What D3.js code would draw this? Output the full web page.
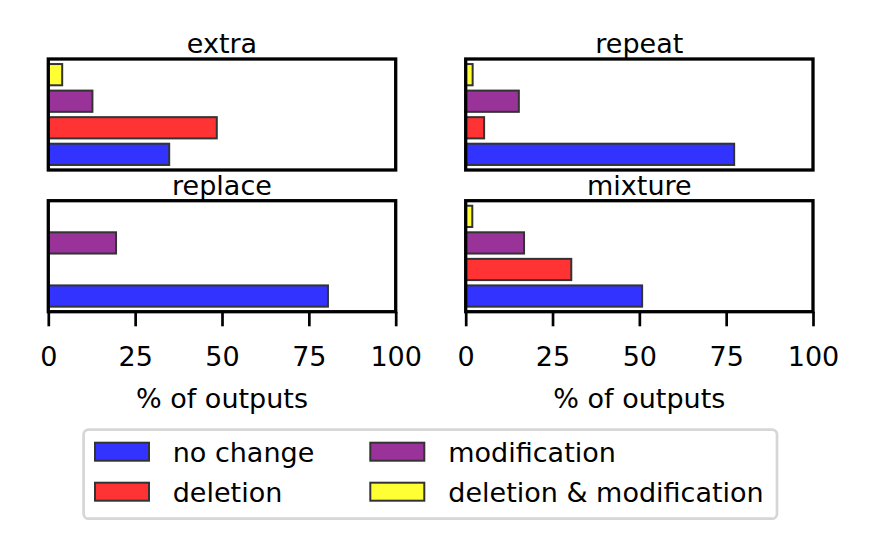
<!DOCTYPE html>
<html>
<head>
<meta charset="utf-8">
<script src="https://cdn.jsdelivr.net/npm/d3@7"></script>
<style>
  body { margin: 0; background: #fff; }
  svg { display: block; }
  text { font-family: "DejaVu Sans", sans-serif; fill: #000; }
</style>
</head>
<body>
<svg id="chart" width="872" height="551"></svg>
<script>
// ---- data ----
const panels = ["extra", "repeat", "replace", "mixture"];
const seriesNames = ["no change", "deletion", "modification", "deletion & modification"];
const noChange = [34.8, 77.3, 80.5, 50.8];
const deletion = [48.5, 5.3, 0, 30.4];
const modification = [12.7, 15.3, 19.5, 16.8];
const delMod = [4.0, 2.0, 0, 1.9];
const xTicks = [0, 25, 50, 75, 100];
const xLabel = "% of outputs";

const seriesValues = [noChange, deletion, modification, delMod];
const colors = ["#3333ff", "#ff3333", "#993399", "#ffff33"];
const edge = "#333333";
const FS = 27;

const svg = d3.select("#chart");

// panel layout
const cols = [{ x0: 48.3, x1: 395.7 }, { x0: 465.7, x1: 813 }];
const rows = [{ y0: 59, y1: 170 }, { y0: 200.7, y1: 311.7 }];

panels.forEach((name, i) => {
  const c = cols[i % 2], r = rows[Math.floor(i / 2)];
  const isBottom = Math.floor(i / 2) === 1;
  const x = d3.scaleLinear().domain([0, 100]).range([c.x0, c.x1]);
  const y = d3.scaleLinear().domain([-0.59, 3.59]).range([r.y1, r.y0]);
  const barH = Math.abs(y(0.4) - y(-0.4));

  const g = svg.append("g");
  const data = seriesValues.map((vals, k) => ({ k, v: vals[i] })).filter(d => d.v > 0);

  g.selectAll("rect.bar").data(data).join("rect")
    .attr("class", "bar")
    .attr("x", x(0))
    .attr("y", d => y(d.k + 0.4))
    .attr("width", d => x(d.v) - x(0))
    .attr("height", barH)
    .attr("fill", d => colors[d.k])
    .attr("stroke", edge)
    .attr("stroke-width", 2);

  // spines
  g.append("rect")
    .attr("x", c.x0).attr("y", r.y0)
    .attr("width", c.x1 - c.x0).attr("height", r.y1 - r.y0)
    .attr("fill", "none").attr("stroke", "#000").attr("stroke-width", 3.3);

  // title
  g.append("text")
    .attr("x", (c.x0 + c.x1) / 2).attr("y", r.y0 - 5.7)
    .attr("text-anchor", "middle").attr("font-size", FS)
    .text(name);

  if (isBottom) {
    const axis = d3.axisBottom(x).tickValues(xTicks).tickSize(14.6).tickPadding(0).tickFormat(d3.format("d"));
    const ag = g.append("g").attr("transform", `translate(0,${r.y1})`).call(axis);
    ag.select(".domain").remove();
    ag.selectAll(".tick line").attr("stroke", "#000").attr("stroke-width", 2.7);
    ag.selectAll(".tick text")
      .attr("y", 366 - r.y1).attr("dy", null)
      .attr("font-size", FS)
      .attr("font-family", "DejaVu Sans, sans-serif")
      .attr("fill", "#000");
    g.append("text")
      .attr("x", (c.x0 + c.x1) / 2).attr("y", 408)
      .attr("text-anchor", "middle").attr("font-size", FS)
      .text(xLabel);
  }
});

// legend
const lg = svg.append("g");
lg.append("rect")
  .attr("x", 83.6).attr("y", 429.6)
  .attr("width", 693.4).attr("height", 89.1)
  .attr("rx", 5).attr("ry", 5)
  .attr("fill", "#fff").attr("stroke", "#d6d6d6").attr("stroke-width", 2.7);

const legPos = [
  { px: 94, tx: 172.7, y: 441.7 },
  { px: 94, tx: 172.7, y: 481.7 },
  { px: 369.3, tx: 448.3, y: 441.7 },
  { px: 369.3, tx: 448.3, y: 481.7 }
];
const items = lg.selectAll("g.item").data(seriesNames).join("g").attr("class", "item");
items.append("rect")
  .attr("x", (d, k) => legPos[k].px + 1).attr("y", (d, k) => legPos[k].y + 1)
  .attr("width", 54).attr("height", 18)
  .attr("fill", (d, k) => colors[k]).attr("stroke", edge).attr("stroke-width", 2);
items.append("text")
  .attr("x", (d, k) => legPos[k].tx).attr("y", (d, k) => legPos[k].y + 20)
  .attr("font-size", FS)
  .text(d => d);
</script>
</body>
</html>
